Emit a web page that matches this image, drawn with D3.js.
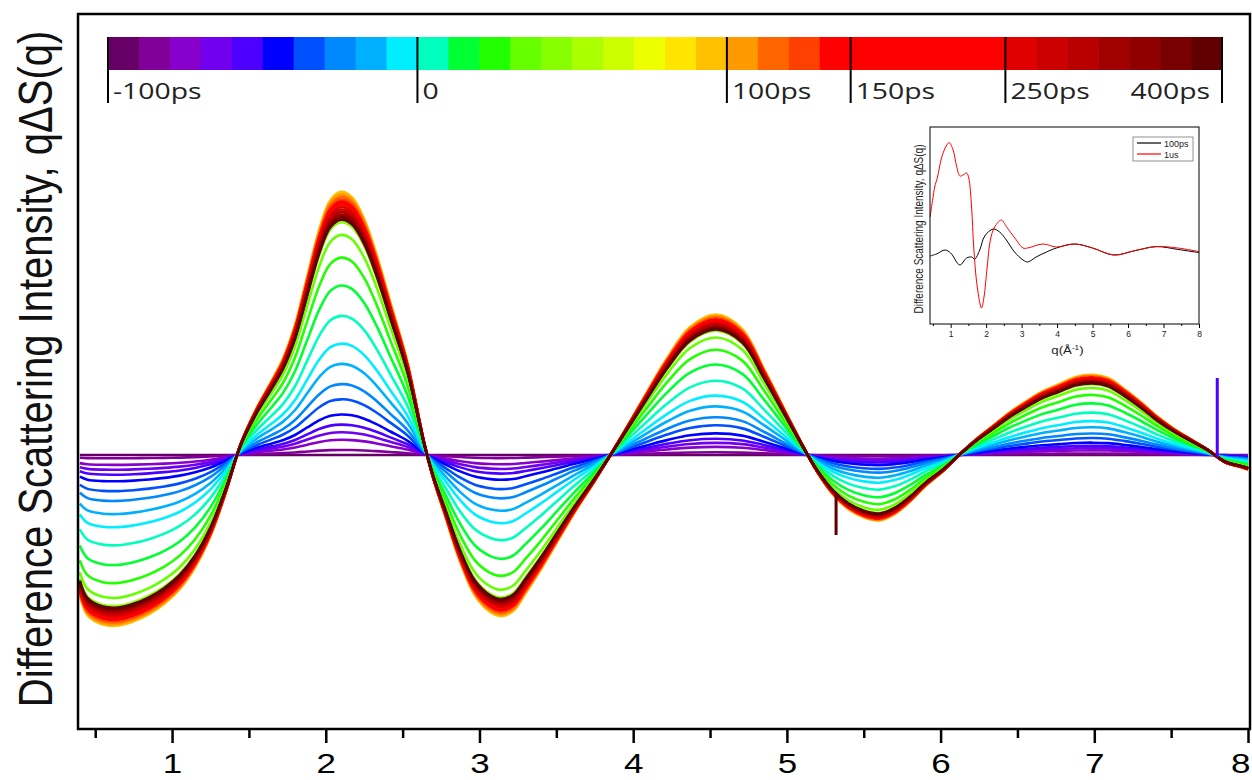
<!DOCTYPE html>
<html>
<head>
<meta charset="utf-8">
<script src="https://cdn.jsdelivr.net/npm/d3@7"></script>
<style>
body { margin: 0; background: #fff; }
svg { display: block; }
</style>
</head>
<body>
<div id="chart"></div>
<script>
// ---- data ----

// q grid (1/A) for the main panel
var qKnots = [0.40, 0.45, 0.55, 0.65, 0.75, 0.85, 0.95, 1.05, 1.15, 1.25,
	1.35, 1.45, 1.55, 1.65, 1.72, 1.80, 1.88, 1.96, 2.03, 2.10,
	2.17, 2.25, 2.33, 2.42, 2.53, 2.64, 2.70, 2.78, 2.87, 2.97,
	3.07, 3.14, 3.22, 3.30, 3.40, 3.50, 3.62, 3.75, 3.90, 4.08,
	4.22, 4.37, 4.54, 4.71, 4.85, 4.99, 5.10, 5.20, 5.30, 5.40,
	5.50, 5.60, 5.70, 5.80, 5.90, 6.02, 6.12, 6.23, 6.34, 6.45,
	6.55, 6.66, 6.77, 6.88, 6.99, 7.09, 7.20, 7.31, 7.41, 7.52,
	7.63, 7.74, 7.85, 7.96, 8.00];

// late-time (150ps) difference signal q*dS(q), arbitrary units
var lateProfile = [-1.35, -1.54, -1.63, -1.64, -1.60, -1.53, -1.43, -1.29, -1.08, -0.78,
	-0.36, 0.12, 0.45, 0.72, 0.92, 1.25, 1.72, 2.18, 2.45, 2.53,
	2.48, 2.27, 1.93, 1.47, 0.90, 0.12, -0.23, -0.60, -1.01, -1.35,
	-1.51, -1.55, -1.50, -1.33, -1.10, -0.85, -0.55, -0.25, 0.12, 0.58,
	0.93, 1.23, 1.35, 1.21, 0.83, 0.42, 0.10, -0.17, -0.38, -0.52,
	-0.60, -0.63, -0.57, -0.45, -0.30, -0.15, 0.00, 0.15, 0.28, 0.41,
	0.51, 0.61, 0.68, 0.75, 0.77, 0.74, 0.63, 0.50, 0.37, 0.25,
	0.15, 0.05, -0.07, -0.12, -0.14];

// one colour step per time delay (-100ps ... 400ps)
var delayColors = ["#660066", "#800099", "#8800cc", "#7000ee", "#4d00ff", "#0000ff", "#0050ff", "#0088ff", "#00b0ff", "#00eeff",
	"#00ffbf", "#00ff33", "#22ff00", "#66ff00", "#88ff00", "#aaff00", "#ccff00", "#eeff00", "#ffe500", "#ffc000",
	"#ff9900", "#ff6600", "#ff4000", "#ff0000", "#ff0000", "#ff0000", "#ff0000", "#ff0000", "#ff0000", "#e00000",
	"#cc0000", "#b80000", "#a00000", "#900000", "#780000", "#600000"];

// signal size of each delay relative to the 150ps profile (peak heights at q~2.1)
var delayAmps = [0.00, 0.02, 0.06, 0.09, 0.12, 0.16, 0.22, 0.28, 0.36, 0.44,
	0.55, 0.67, 0.78, 0.87, 0.92, 0.95, 0.97, 0.99, 1.02, 1.04,
	1.03, 1.02, 1.01, 1.00, 1.00, 1.00, 1.00, 1.00, 0.99, 0.98,
	0.97, 0.96, 0.95, 0.94, 0.94, 0.93];

// single-point glitches seen in the data
var glitchSeries = [35, 4];
var glitchQ = [5.32, 7.80];
var glitchFrom = [-0.40, -0.02];
var glitchTo = [-0.80, 0.77];

// colour bar ticks
var cbTickIndex = [0, 10, 20, 24, 29, 36];
var cbLabels = ["-100ps", "0", "100ps", "150ps", "250ps", "400ps"];

var xTicks = [1, 2, 3, 4, 5, 6, 7, 8];
var xMinor = [0.5, 1.5, 2.5, 3.5, 4.5, 5.5, 6.5, 7.5];

// inset: 100ps vs 1us
var insetQ100 = [0.42, 0.60, 0.84, 1.00, 1.26, 1.45, 1.59, 1.68, 1.82, 1.96,
	2.20, 2.38, 2.57, 2.80, 3.04, 3.17, 3.41, 3.70, 3.98, 4.49,
	5.00, 5.60, 6.20, 6.80, 7.40, 8.00];
var insetS100 = [-0.20, -0.10, 0.10, -0.05, -0.65, -0.30, -0.25, -0.35, 0.10, 0.80,
	1.15, 1.00, 0.60, 0.00, -0.40, -0.50, -0.25, 0.00, 0.20, 0.40,
	0.20, -0.15, 0.07, 0.27, 0.13, -0.03];
var insetQ1us = [0.42, 0.50, 0.55, 0.63, 0.75, 0.89, 0.96, 1.07, 1.17, 1.26,
	1.35, 1.45, 1.51, 1.59, 1.65, 1.75, 1.87, 1.94, 2.03, 2.12,
	2.24, 2.43, 2.57, 2.81, 3.04, 3.17, 3.60, 3.98, 4.49, 5.00,
	5.60, 6.20, 6.80, 7.40, 8.00];
var insetS1us = [1.75, 2.70, 3.25, 3.75, 4.75, 5.35, 5.47, 5.10, 4.27, 3.80,
	3.85, 3.95, 3.70, 2.25, 0.25, -1.75, -2.80, -2.25, -0.75, 0.60,
	1.25, 1.60, 1.27, 0.70, 0.20, 0.20, 0.40, 0.25, 0.40, 0.20,
	-0.15, 0.07, 0.27, 0.20, 0.02];
var insetNames = ["100ps", "1us"];
var insetColors = ["#000000", "#ff0000"];

// ---- drawing ----
var W = 1252, H = 780;
var sx = 1.2; // the figure is stretched sideways, text follows it

var svg = d3.select("#chart").append("svg")
	.attr("width", W)
	.attr("height", H)
	.style("font-family", "'Liberation Sans', Arial, sans-serif");

var plot = {left: 78, right: 1250, top: 14, bottom: 729};

var x = d3.scaleLinear().domain([0.388, 8.013]).range([plot.left, plot.right]);
var y = d3.scaleLinear().domain([-2.74, 4.41]).range([plot.bottom, plot.top]);

svg.append("clipPath").attr("id", "clip")
	.append("rect")
	.attr("x", plot.left).attr("y", plot.top)
	.attr("width", plot.right - plot.left).attr("height", plot.bottom - plot.top);

var line = d3.line()
	.x(function(d) { return x(d[0]); })
	.y(function(d) { return y(d[1]); })
	.curve(d3.curveCatmullRom.alpha(0.5));

var curves = svg.append("g").attr("clip-path", "url(#clip)");

curves.selectAll("path.delay")
	.data(delayColors)
	.join("path")
	.attr("class", "delay")
	.attr("fill", "none")
	.attr("stroke", function(c) { return c; })
	.attr("stroke-width", 2.6)
	.attr("stroke-linejoin", "round")
	.attr("d", function(c, i) {
		return line(qKnots.map(function(q, k) { return [q, delayAmps[i] * lateProfile[k]]; }));
	});

curves.selectAll("line.glitch")
	.data(glitchQ)
	.join("line")
	.attr("class", "glitch")
	.attr("x1", function(q) { return x(q); })
	.attr("x2", function(q) { return x(q); })
	.attr("y1", function(q, i) { return y(glitchFrom[i]); })
	.attr("y2", function(q, i) { return y(glitchTo[i]); })
	.attr("stroke", function(q, i) { return delayColors[glitchSeries[i]]; })
	.attr("stroke-width", 3);

// frame
svg.append("rect")
	.attr("x", plot.left).attr("y", plot.top)
	.attr("width", plot.right - plot.left).attr("height", plot.bottom - plot.top)
	.attr("fill", "none").attr("stroke", "#000").attr("stroke-width", 2.5);

// x axis
var xAxis = svg.append("g")
	.attr("transform", "translate(0," + plot.bottom + ")")
	.call(d3.axisBottom(x).tickValues(xTicks).tickSize(14).tickFormat(d3.format("d")));
xAxis.select(".domain").remove();
xAxis.selectAll(".tick line").attr("stroke-width", 2.5);
xAxis.selectAll(".tick text")
	.attr("y", 44)
	.attr("dy", 0)
	.attr("transform", "scale(1.25,1)")
	.style("font-size", "28px")
	.attr("fill", "#000");
// last label sits on the right edge: keep it inside the page
xAxis.selectAll(".tick text")
	.filter(function(d) { return d === xTicks[xTicks.length - 1]; })
	.attr("text-anchor", "end")
	.attr("x", 1.5);

var xMinorAxis = svg.append("g")
	.attr("transform", "translate(0," + plot.bottom + ")")
	.call(d3.axisBottom(x).tickValues(xMinor).tickSize(9).tickFormat(""));
xMinorAxis.select(".domain").remove();
xMinorAxis.selectAll(".tick line").attr("stroke-width", 2.5);

// y label
svg.append("text")
	.attr("transform", "translate(52," + 369 + ") scale(" + sx + ",1) rotate(-90)")
	.attr("text-anchor", "middle")
	.style("font-size", "40px")
	.attr("fill", "#111")
	.text("Difference Scattering Intensity, q\u0394S(q)");

// colour bar
var cbx = d3.scaleLinear().domain([0, delayColors.length]).range([108, 1222]);
var cb = svg.append("g");
cb.selectAll("rect")
	.data(delayColors)
	.join("rect")
	.attr("x", function(c, i) { return cbx(i); })
	.attr("y", 37)
	.attr("width", function(c, i) { return cbx(i + 1) - cbx(i) + 0.6; })
	.attr("height", 33)
	.attr("fill", function(c) { return c; });

cb.selectAll("line")
	.data(cbTickIndex)
	.join("line")
	.attr("x1", function(d) { return cbx(d); })
	.attr("x2", function(d) { return cbx(d); })
	.attr("y1", 37)
	.attr("y2", 103)
	.attr("stroke", "#000")
	.attr("stroke-width", 2);

cb.selectAll("text")
	.data(cbTickIndex)
	.join("text")
	.attr("transform", function(d, i) {
		var last = i === cbTickIndex.length - 1;
		return "translate(" + (last ? cbx(d) - 12 : cbx(d) + 5) + ",99) scale(1.26,1)";
	})
	.attr("text-anchor", function(d, i) { return i === cbTickIndex.length - 1 ? "end" : "start"; })
	.style("font-family", "'Open Sans', sans-serif")
	.style("font-size", "22.5px")
	.attr("fill", "#222")
	.text(function(d, i) { return cbLabels[i]; });

// inset
var ins = {left: 930, right: 1199, top: 127, bottom: 324};
var ix = d3.scaleLinear().domain([0.418, 8]).range([ins.left, ins.right]);
var iy = d3.scaleLinear().domain([-3.6, 6.25]).range([ins.bottom, ins.top]);

var inset = svg.append("g");
inset.append("rect")
	.attr("x", ins.left).attr("y", ins.top)
	.attr("width", ins.right - ins.left).attr("height", ins.bottom - ins.top)
	.attr("fill", "#fff");

var iline = d3.line()
	.x(function(d) { return ix(d[0]); })
	.y(function(d) { return iy(d[1]); })
	.curve(d3.curveCatmullRom.alpha(0.5));

var insetSeries = [
	d3.zip(insetQ100, insetS100),
	d3.zip(insetQ1us, insetS1us)
];

inset.selectAll("path.ser")
	.data(insetSeries)
	.join("path")
	.attr("class", "ser")
	.attr("fill", "none")
	.attr("stroke", function(d, i) { return insetColors[i]; })
	.attr("stroke-width", 1)
	.attr("d", iline);

inset.append("rect")
	.attr("x", ins.left).attr("y", ins.top)
	.attr("width", ins.right - ins.left).attr("height", ins.bottom - ins.top)
	.attr("fill", "none").attr("stroke", "#000").attr("stroke-width", 1);

var ixAxis = inset.append("g")
	.attr("transform", "translate(0," + ins.bottom + ")")
	.call(d3.axisBottom(ix).tickValues(xTicks).tickSize(4).tickPadding(3).tickFormat(d3.format("d")));
ixAxis.select(".domain").remove();
ixAxis.selectAll(".tick text").style("font-size", "8.5px").attr("fill", "#222");

var ixMinor = inset.append("g")
	.attr("transform", "translate(0," + ins.bottom + ")")
	.call(d3.axisBottom(ix).tickValues(xMinor).tickSize(2).tickFormat(""));
ixMinor.select(".domain").remove();

var qLabel = inset.append("text")
	.attr("transform", "translate(" + ((ins.left + ins.right) / 2 + 3) + ",354) scale(" + sx + ",1)")
	.attr("text-anchor", "middle")
	.style("font-size", "11px")
	.attr("fill", "#222");
qLabel.append("tspan").text("q(\u00c5");
qLabel.append("tspan").attr("dy", -4).style("font-size", "7px").text("-1");
qLabel.append("tspan").attr("dy", 4).text(")");

inset.append("text")
	.attr("transform", "translate(923," + 229 + ") scale(" + sx + ",1) rotate(-90)")
	.attr("text-anchor", "middle")
	.style("font-size", "10px")
	.attr("fill", "#222")
	.text("Difference Scattering Intensity, q\u0394S(q)");

// inset legend
var leg = inset.append("g").attr("transform", "translate(1133,137)");
leg.append("rect")
	.attr("width", 60).attr("height", 24)
	.attr("fill", "#fff").attr("stroke", "#777").attr("stroke-width", 0.8);
var legItems = leg.selectAll("g")
	.data(insetNames)
	.join("g")
	.attr("transform", function(d, i) { return "translate(0," + (6 + i * 11) + ")"; });
legItems.append("line")
	.attr("x1", 4).attr("x2", 28)
	.attr("stroke", function(d, i) { return insetColors[i]; })
	.attr("stroke-width", 1.2);
legItems.append("text")
	.attr("x", 31).attr("y", 3.5)
	.style("font-size", "9px")
	.attr("fill", "#222")
	.text(function(d) { return d; });
</script>
</body>
</html>
